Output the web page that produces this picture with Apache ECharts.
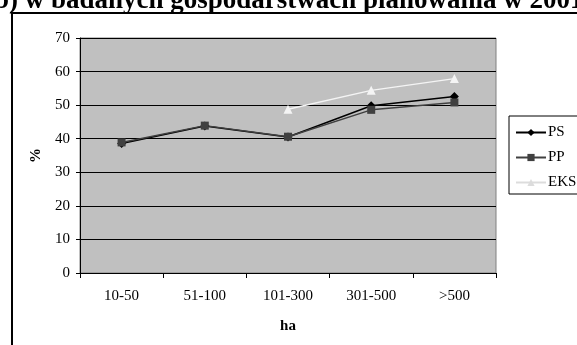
<!DOCTYPE html>
<html><head><meta charset="utf-8">
<script src="https://cdn.jsdelivr.net/npm/echarts@6/dist/echarts.min.js"></script>
<style>html,body{margin:0;padding:0;background:#fff}#c{width:577px;height:345px}</style>
</head><body><div id="c"></div>
<script>
var categories = ['10-50', '51-100', '101-300', '301-500', '>500'];
var psValues = [38.6, 43.8, 40.5, 49.8, 52.6];
var ppValues = [38.9, 43.9, 40.6, 48.6, 50.8];
var eksValues = ['-', '-', 48.8, 54.4, 57.9];
var yTicks = [0, 10, 20, 30, 40, 50, 60, 70];
var titleText = 'b) w badanych gospodarstwach planowania w 2001';

var font = 'Liberation Serif, Times New Roman, serif';
var chart = echarts.init(document.getElementById('c'), null, {renderer: 'canvas'});
chart.setOption({
  animation: false,
  backgroundColor: '#ffffff',
  textStyle: {fontFamily: font},
  graphic: [
    {type: 'text', left: -6, top: -12, z: 10, style: {text: titleText, font: 'bold 27px ' + font, fill: '#000'}},
    {type: 'polyline', shape: {points: [[12, 345], [12, 13], [577, 13]]}, style: {stroke: '#000', lineWidth: 2, fill: null}, z: 11}
  ],
  grid: {left: 80, top: 38, right: 81, bottom: 72, show: true, backgroundColor: '#c0c0c0', borderColor: '#808080', borderWidth: 1},
  legend: {
    orient: 'vertical', left: 509, top: 116,
    backgroundColor: '#fff', borderColor: '#000', borderWidth: 1,
    padding: [9, 40, 4, 6], itemGap: 10, itemWidth: 30, itemHeight: 9,
    textStyle: {fontFamily: font, fontSize: 15, color: '#000', lineHeight: 15, padding: [0, 0, 0, -3]},
    data: [
      {name: 'PS'},
      {name: 'PP'},
      {name: 'EKS', itemStyle: {color: '#dcdcdc'}, lineStyle: {color: '#dcdcdc'}}
    ]
  },
  xAxis: {
    type: 'category', data: categories, boundaryGap: true,
    name: 'ha', nameLocation: 'middle', nameGap: 46,
    nameTextStyle: {fontFamily: font, fontSize: 15, fontWeight: 'bold', color: '#000'},
    axisLine: {lineStyle: {color: '#000', width: 1}},
    axisTick: {show: true, length: 5, lineStyle: {color: '#000'}},
    axisLabel: {fontFamily: font, fontSize: 15, color: '#000', margin: 16}
  },
  yAxis: {
    type: 'value', min: yTicks[0], max: yTicks[yTicks.length - 1], interval: 10,
    name: '%', nameLocation: 'middle', nameGap: 31, nameRotate: 90,
    nameTextStyle: {fontFamily: font, fontSize: 15, fontWeight: 'bold', color: '#000'},
    axisLine: {show: true, lineStyle: {color: '#000', width: 1}},
    axisTick: {show: true, length: 4, lineStyle: {color: '#000'}},
    axisLabel: {fontFamily: font, fontSize: 15, color: '#000', margin: 10},
    splitLine: {show: true, lineStyle: {color: '#000', width: 1}}
  },
  series: [
    {name: 'PS', type: 'line', data: psValues, symbol: 'diamond', symbolSize: 9,
     color: '#000000', lineStyle: {width: 1.5, color: '#000'}, itemStyle: {color: '#000'}},
    {name: 'PP', type: 'line', data: ppValues, symbol: 'rect', symbolSize: 8,
     color: '#404040', lineStyle: {width: 1.5, color: '#404040'}, itemStyle: {color: '#404040'}},
    {name: 'EKS', type: 'line', data: eksValues, symbol: 'triangle', symbolSize: 9,
     color: '#f4f4f4', lineStyle: {width: 1.5, color: '#f4f4f4'}, itemStyle: {color: '#f4f4f4'}}
  ]
});
</script></body></html>
